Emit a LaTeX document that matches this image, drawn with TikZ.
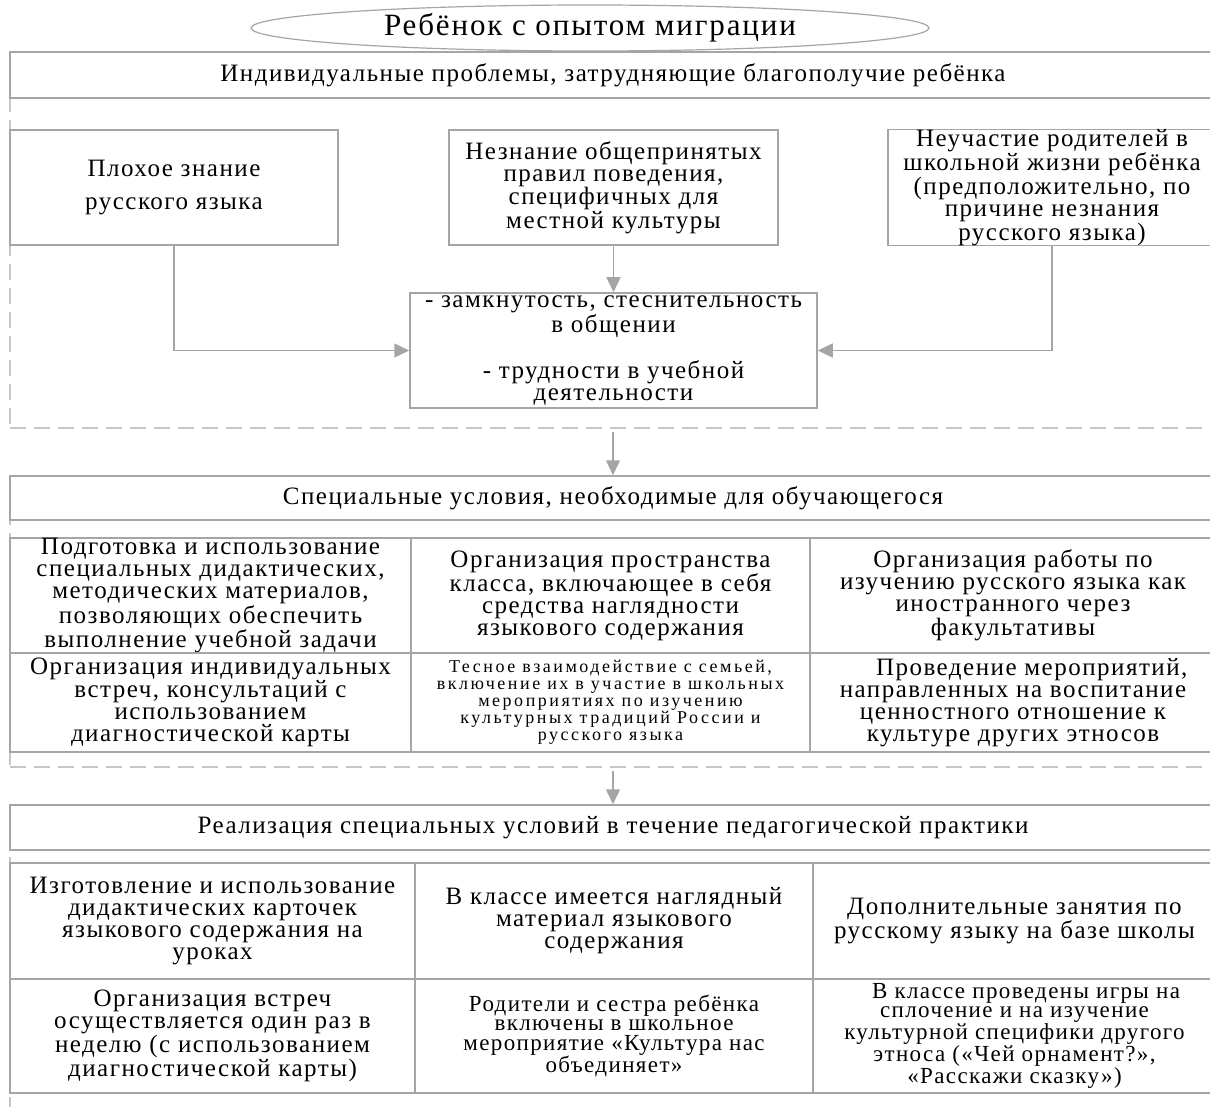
\documentclass[tikz,border=0pt]{standalone}
\usepackage{fontspec}
\setmainfont{Liberation Serif}[LetterSpace=6]
\usetikzlibrary{shapes.geometric,arrows.meta}
\definecolor{linegray}{RGB}{165,165,165}
\definecolor{dashgray}{RGB}{198,198,198}
\newcommand\boxfont{\fontsize{25}{22}\selectfont}
\newcommand\tinyboxfont{\fontsize{18}{17}\selectfont\addfontfeature{LetterSpace=14}}
\newcommand\smallboxfont{\fontsize{23}{19.5}\selectfont}
\newcommand\titlefont{\fontsize{31}{34}\selectfont}
\tikzset{
	probbox/.style={draw=linegray, line width=1.5pt, inner sep=0pt, align=center, font=\boxfont},
	sectbox/.style={draw=dashgray, line width=1.5pt, dash pattern=on 16pt off 8pt, inner sep=0pt},
	arr/.style={draw=linegray, line width=1.5pt, -{Triangle[length=15pt,width=14pt]}},
}

\begin{document}
\begin{tikzpicture}[x=1pt, y=-1pt]
			%%%%% START %%%%%
			\useasboundingbox (0,0) rectangle (1210,1107);
			\clip (0,0) rectangle (1210,1107);
			
			% first block
			\node[sectbox, minimum width=1206pt, minimum height=376pt] (sec1) at (613,240) {};
			\node[ellipse, draw=linegray, line width=1.2pt, minimum width=678pt, minimum height=46pt, inner sep=0pt, font=\titlefont] (child) at (590,28) {Ребёнок с опытом миграции};
			\node[probbox, minimum width=1206pt, minimum height=46pt] (hdr1) at (613,75) {Индивидуальные проблемы, затрудняющие благополучие ребёнка};
			
			\node[probbox, minimum width=328pt, minimum height=115pt] (plohoe) at (174,187.5) {Плохое знание\\[11pt] русского языка};
			\node[probbox, minimum width=329pt, minimum height=115pt] (neznanie) at (613.5,187.5) {Незнание общепринятых\\ правил поведения,\\ специфичных для\\ местной культуры};
			\node[probbox, minimum width=328pt, minimum height=115pt] (neuchastie) at (1052,187.5) {Неучастие родителей в\\ школьной жизни ребёнка\\ (предположительно, по\\ причине незнания\\ русского языка)};
			\node[probbox, minimum width=407pt, minimum height=115pt] (zamknut) at (613.5,350.5) {- замкнутость, стеснительность\\ в общении\\[22pt] - трудности в учебной\\ деятельности};
			
			\draw[arr] (plohoe.south) |- (zamknut.west);
			\draw[arr] (neznanie.south) -- (zamknut.north);
			\draw[arr] (neuchastie.south) |- (zamknut.east);
			
			% second block
			\node[sectbox, minimum width=1206pt, minimum height=291pt] (sec2) at (613,621.5) {};
			\node[probbox, minimum width=1206pt, minimum height=44pt] (hdr2) at (613,498) {Специальные условия, необходимые для обучающегося};
			\draw[arr] ([yshift=-3pt]sec1.south) -- (hdr2.north);
			
			\node[probbox, minimum width=401pt, minimum height=115pt] (podgotovka) at (210.5,595.5) {Подготовка и использование\\ специальных дидактических,\\ методических материалов,\\ позволяющих обеспечить\\ выполнение учебной задачи};
			\node[probbox, minimum width=399pt, minimum height=115pt] (prostranstvo) at (610.5,595.5) {Организация пространства\\ класса, включающее в себя\\ средства наглядности\\ языкового содержания};
			\node[probbox, minimum width=406pt, minimum height=115pt] (fakultativ) at (1013,595.5) {Организация работы по\\ изучению русского языка как\\ иностранного через\\ факультативы};
			\node[probbox, minimum width=401pt, minimum height=99pt] (vstrechi) at (210.5,702.5) {Организация индивидуальных\\ встреч, консультаций с\\ использованием\\ диагностической карты};
			\node[probbox, minimum width=399pt, minimum height=99pt, font=\tinyboxfont] (semya) at (610.5,702.5) {Тесное взаимодействие с семьей,\\ включение их в участие в школьных\\ мероприятиях по изучению\\ культурных традиций России и\\ русского языка};
			\node[probbox, minimum width=406pt, minimum height=99pt] (etnosy) at (1013,702.5) {\hspace*{1.5em}Проведение мероприятий,\\ направленных на воспитание\\ ценностного отношение к\\ культуре других этносов};
			
			% third block
			\node[sectbox, minimum width=1206pt, minimum height=320pt] (sec3) at (613,965) {};
			\node[probbox, minimum width=1206pt, minimum height=45pt] (hdr3) at (613,827.5) {Реализация специальных условий в течение педагогической практики};
			\draw[arr] ([yshift=-3pt]sec2.south) -- (hdr3.north);
			
			\node[probbox, minimum width=405pt, minimum height=116pt] (kartochki) at (212.5,921) {Изготовление и использование\\ дидактических карточек\\ языкового содержания на\\ уроках};
			\node[probbox, minimum width=398pt, minimum height=116pt] (material) at (614,921) {В классе имеется наглядный\\ материал языкового\\ содержания};
			\node[probbox, minimum width=403pt, minimum height=116pt] (zanyatiya) at (1014.5,921) {Дополнительные занятия по\\ русскому языку на базе школы};
			\node[probbox, minimum width=405pt, minimum height=114pt] (raz) at (212.5,1036) {Организация встреч\\ осуществляется один раз в\\ неделю (с использованием\\ диагностической карты)};
			\node[probbox, minimum width=398pt, minimum height=114pt, font=\smallboxfont] (roditeli) at (614,1036) {Родители и сестра ребёнка\\ включены в школьное\\ мероприятие «Культура нас\\ объединяет»};
			\node[probbox, minimum width=403pt, minimum height=114pt, font=\smallboxfont] (igry) at (1014.5,1036) {\hspace*{1em}В классе проведены игры на\\ сплочение и на изучение\\ культурной специфики другого\\ этноса («Чей орнамент?»,\\ «Расскажи сказку»)};
			%%%%% END %%%%%
\end{tikzpicture}
\end{document}
